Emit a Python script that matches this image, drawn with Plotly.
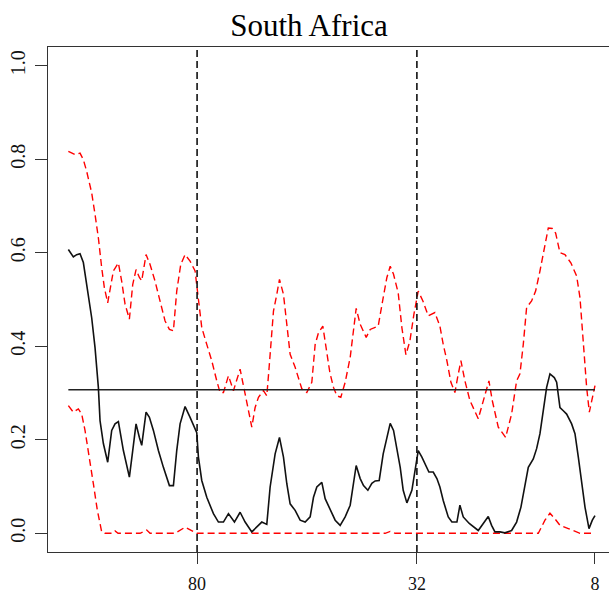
import plotly.graph_objects as go

# Band-position index of each vertex and the coherence estimate at it
est_x = [0.1, 1.6, 2.6, 3.6, 4.6, 5.6, 7.1, 8.1, 9.1, 9.6, 10.6, 11.9, 13.1, 14.1, 15.1,
         16.6, 18.4, 19.4, 20.4, 21.4, 22.1, 23.4, 24.4, 25.6, 27.1, 28.6, 30.4, 31.6,
         32.6, 33.6, 35.1, 36.6, 38.1, 38.6, 39.1, 40.1, 41.6, 43.6, 45.1, 46.6, 48.1,
         49.9, 51.6, 53.1, 55.1, 56.6, 58.1, 59.6, 60.6, 62.1, 63.4, 64.6, 65.6, 66.6,
         68.1, 69.6, 71.1, 72.6, 73.6, 74.6, 76.1, 77.1, 78.6, 80.1, 81.6, 83.1, 84.6,
         85.6, 86.4, 87.6, 88.6, 89.9, 91.1, 92.1, 93.3, 94.5, 95.6, 96.6, 97.6, 98.6,
         99.6, 100.5, 101.6, 103.1, 104.0, 105.0, 106.1, 107.0, 108.2, 109.5, 110.6,
         111.5, 112.5, 114.0, 115.1, 116.6, 117.5, 118.5, 120.3, 123.0, 124.5, 126.0,
         127.0, 128.0, 129.5, 131.0, 133.0, 134.5, 135.8, 137.0, 138.0, 139.5, 140.5,
         141.5, 142.5, 143.5, 144.5, 145.8, 146.5, 147.5, 148.5, 149.5, 151.0, 152.0,
         153.0, 154.0, 155.0, 156.2, 157.2, 158.0]
est_y = [0.607, 0.591, 0.596, 0.598, 0.579, 0.533, 0.461, 0.397, 0.312, 0.241, 0.192,
         0.152, 0.220, 0.234, 0.239, 0.177, 0.120, 0.177, 0.234, 0.205, 0.188, 0.259,
         0.248, 0.220, 0.177, 0.141, 0.102, 0.102, 0.177, 0.234, 0.271, 0.248, 0.220,
         0.215, 0.163, 0.113, 0.077, 0.042, 0.024, 0.024, 0.042, 0.024, 0.045, 0.024,
         0.003, 0.013, 0.024, 0.019, 0.099, 0.170, 0.205, 0.163, 0.106, 0.063, 0.049,
         0.028, 0.024, 0.035, 0.077, 0.099, 0.109, 0.074, 0.049, 0.028, 0.017, 0.035,
         0.060, 0.106, 0.145, 0.117, 0.102, 0.092, 0.107, 0.112, 0.113, 0.170, 0.205,
         0.235, 0.220, 0.184, 0.141, 0.092, 0.065, 0.092, 0.134, 0.177, 0.163, 0.149,
         0.131, 0.131, 0.117, 0.099, 0.070, 0.035, 0.024, 0.024, 0.060, 0.035, 0.021,
         0.006, 0.021, 0.036, 0.017, 0.003, 0.003, 0.001, 0.006, 0.024, 0.056, 0.099,
         0.141, 0.159, 0.181, 0.213, 0.262, 0.312, 0.341, 0.333, 0.323, 0.269, 0.262,
         0.255, 0.234, 0.213, 0.163, 0.106, 0.056, 0.010, 0.028, 0.038]

# Upper confidence bound
upper_x = [0.1, 2.1, 3.6, 4.6, 5.6, 7.1, 8.1, 9.1, 10.1, 10.9, 11.9, 12.6, 13.6, 15.1,
           16.1, 17.1, 18.4, 19.4, 20.4, 21.4, 22.1, 23.4, 24.6, 26.1, 27.6, 29.1, 30.4,
           31.6, 32.6, 33.8, 35.1, 36.6, 38.1, 39.1, 40.1, 41.6, 43.1, 44.6, 45.6, 46.6,
           48.1, 49.6, 51.6, 53.1, 54.1, 55.1, 56.1, 57.1, 58.6, 59.6, 60.3, 61.6, 62.6,
           63.4, 64.6, 65.3, 66.6, 68.1, 70.1, 71.6, 73.1, 74.1, 75.1, 76.4, 77.6, 78.5,
           79.6, 80.6, 81.8, 83.1, 84.6, 85.6, 86.4, 87.6, 89.4, 90.6, 93.0, 94.5, 95.6,
           96.6, 97.6, 99.0, 100.1, 101.3, 102.5, 103.7, 105.0, 106.4, 108.0, 110.0,
           111.5, 112.5, 113.6, 114.8, 116.0, 116.8, 117.8, 119.0, 120.5, 123.0, 124.5,
           126.2, 127.2, 129.0, 131.2, 133.0, 134.5, 135.5, 136.5, 137.5, 139.0, 140.2,
           141.5, 143.0, 144.0, 145.2, 146.2, 147.5, 149.0, 150.8, 152.5, 153.5, 154.5,
           155.5, 156.3, 157.3, 158.0]
upper_y = [0.817, 0.810, 0.813, 0.799, 0.774, 0.728, 0.682, 0.632, 0.568, 0.525, 0.493,
           0.525, 0.561, 0.578, 0.539, 0.490, 0.458, 0.532, 0.564, 0.547, 0.540, 0.596,
           0.575, 0.539, 0.497, 0.454, 0.436, 0.433, 0.518, 0.575, 0.596, 0.582, 0.561,
           0.497, 0.440, 0.404, 0.369, 0.326, 0.301, 0.301, 0.337, 0.305, 0.351, 0.298,
           0.262, 0.227, 0.269, 0.291, 0.305, 0.294, 0.355, 0.475, 0.511, 0.543, 0.511,
           0.461, 0.383, 0.355, 0.309, 0.301, 0.323, 0.404, 0.429, 0.443, 0.383, 0.344,
           0.312, 0.294, 0.291, 0.323, 0.376, 0.433, 0.481, 0.447, 0.419, 0.436, 0.443,
           0.504, 0.547, 0.571, 0.554, 0.514, 0.440, 0.382, 0.411, 0.468, 0.518, 0.497,
           0.465, 0.472, 0.443, 0.404, 0.369, 0.323, 0.301, 0.333, 0.369, 0.326, 0.284,
           0.245, 0.284, 0.326, 0.284, 0.227, 0.205, 0.255, 0.326, 0.341, 0.404, 0.483,
           0.497, 0.518, 0.561, 0.618, 0.653, 0.652, 0.642, 0.600, 0.596, 0.578, 0.550,
           0.504, 0.404, 0.312, 0.259, 0.291, 0.316]

# Lower confidence bound
lower_x = [0.1, 1.6, 3.1, 4.1, 5.1, 6.6, 7.6, 8.8, 10.1, 11.1, 13.2, 14.1, 15.0, 21.6,
           23.6, 24.6, 32.1, 35.1, 36.6, 38.6, 95.1, 96.6, 98.1, 141.0, 143.0, 144.5,
           146.0, 147.5, 150.0, 152.5, 153.5, 158.0]
lower_y = [0.273, 0.259, 0.266, 0.255, 0.220, 0.156, 0.106, 0.049, 0.003, 0.0, 0.0,
           0.005, 0.0, 0.0, 0.007, 0.0, 0.0, 0.013, 0.008, 0.0, 0.0, 0.004, 0.0, 0.0,
           0.028, 0.043, 0.031, 0.017, 0.010, 0.003, 0.0, 0.0]

# Average level across the whole band
mean_level = 0.307
band_span = [0.1, 158.0]

# Period labels on the horizontal axis and the cut-offs marked by dashed lines
period_pos = [38.7, 104.6, 158.0]
period_labels = ["80", "32", "8"]
cutoff_pos = [38.7, 104.6]

y_ticks = [0.0, 0.2, 0.4, 0.6, 0.8, 1.0]
y_labels = ["0.0", "0.2", "0.4", "0.6", "0.8", "1.0"]

serif = "Liberation Serif, Times New Roman, serif"
dash = "7px,4px"

fig = go.Figure()
fig.add_trace(go.Scatter(x=upper_x, y=upper_y, mode="lines",
                         line=dict(color="#ff0000", width=1.4, dash=dash)))
fig.add_trace(go.Scatter(x=lower_x, y=lower_y, mode="lines",
                         line=dict(color="#ff0000", width=1.4, dash=dash)))
fig.add_trace(go.Scatter(x=band_span, y=[mean_level, mean_level], mode="lines",
                         line=dict(color="#222222", width=1.4)))
fig.add_trace(go.Scatter(x=est_x, y=est_y, mode="lines",
                         line=dict(color="#111111", width=1.6)))

for c in cutoff_pos:
    fig.add_vline(x=c, line=dict(color="#111111", width=1.6, dash="7px,4px"))

fig.update_layout(
    width=609, height=594,
    margin=dict(l=48, r=0, t=47, b=42),
    paper_bgcolor="white", plot_bgcolor="white",
    showlegend=False,
    font=dict(family=serif, color="#111111"),
    title=dict(text="South Africa", x=309 / 609, xanchor="center",
               y=1 - 25 / 594, yanchor="middle", yref="container",
               font=dict(family=serif, size=31, color="#000000")),
)
fig.update_xaxes(
    range=[-6.0, 162.2], showgrid=False, zeroline=False, automargin=False,
    showline=True, linecolor="#333333", linewidth=1.2, mirror=True,
    ticks="outside", ticklen=11, tickwidth=1.2, tickcolor="#333333",
    tickvals=period_pos, ticktext=period_labels, ticklabelstandoff=4,
    tickfont=dict(family=serif, size=18, color="#111111"),
)
fig.update_yaxes(
    range=[-0.04, 1.04], showgrid=False, zeroline=False, automargin=False,
    showline=True, linecolor="#333333", linewidth=1.2, mirror=False,
    ticks="outside", ticklen=12, tickwidth=1.2, tickcolor="#333333",
    tickvals=y_ticks, ticktext=y_labels, tickangle=-90, ticklabelstandoff=2,
    tickfont=dict(family=serif, size=20, color="#111111"),
)

fig.write_html("out.html")
